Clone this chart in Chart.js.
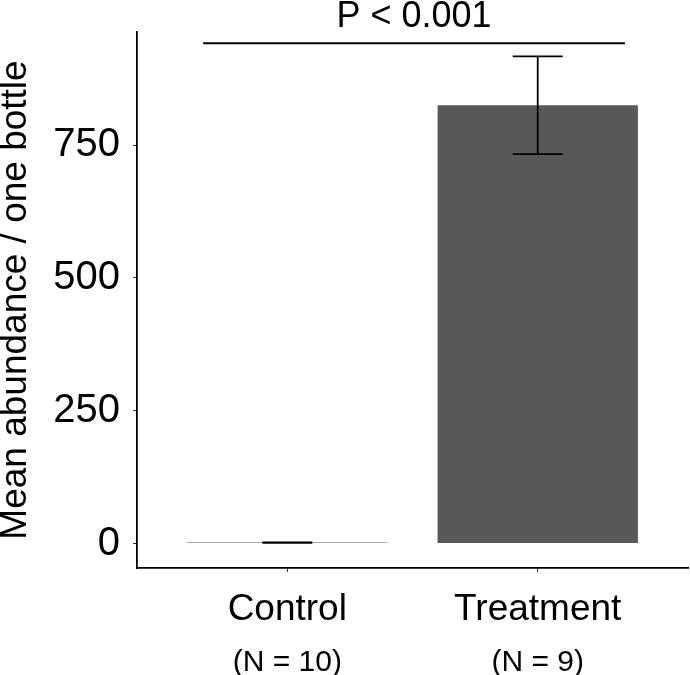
<!DOCTYPE html>
<html>
<head>
<meta charset="utf-8">
<script src="https://cdn.jsdelivr.net/npm/chart.js@4/dist/chart.umd.min.js"></script>
<style>
    body { margin: 0; background: #fff; }
    #wrap { width: 690px; height: 675px; }
</style>
</head>
<body>
<div id="wrap"><canvas id="abundanceChart"></canvas></div>
<script>
// data
const groups = ['Control', 'Treatment'];
const groupN = ['(N = 10)', '(N = 9)'];
const meanAbundance = [2, 825];
const errHalf = [0.5, 92];
const yTicks = [0, 250, 500, 750];
const pLabel = 'P < 0.001';
const bracketValue = 942;

const fontFamily = "'Liberation Sans', Arial, sans-serif";

// error bars, significance bracket and N labels
const extrasPlugin = {
    id: 'extras',
    afterDatasetsDraw(chart) {
        const ctx = chart.ctx;
        const x = chart.scales.x;
        const y = chart.scales.y;
        ctx.save();
        ctx.strokeStyle = '#000';
        ctx.lineWidth = 1.8;
        groups.forEach((g, i) => {
            const cx = x.getPixelForValue(i + 1);
            const left = x.getPixelForValue(i + 0.9);
            const right = x.getPixelForValue(i + 1.1);
            const hi = y.getPixelForValue(meanAbundance[i] + errHalf[i]);
            const lo = y.getPixelForValue(meanAbundance[i] - errHalf[i]);
            ctx.beginPath();
            ctx.moveTo(cx, hi); ctx.lineTo(cx, lo);
            ctx.moveTo(left, hi); ctx.lineTo(right, hi);
            ctx.moveTo(left, lo); ctx.lineTo(right, lo);
            ctx.stroke();
        });

        // bracket
        const by = y.getPixelForValue(bracketValue);
        const bx1 = x.getPixelForValue(0.664);
        const bx2 = x.getPixelForValue(2.348);
        ctx.lineWidth = 2;
        ctx.beginPath();
        ctx.moveTo(bx1, by); ctx.lineTo(bx2, by);
        ctx.stroke();
        ctx.fillStyle = '#000';
        ctx.font = '36px ' + fontFamily;
        ctx.textAlign = 'center';
        ctx.textBaseline = 'alphabetic';
        ctx.fillText(pLabel, (bx1 + bx2) / 2, by - 16);

        // N under the group names
        ctx.font = '30px ' + fontFamily;
        groupN.forEach((n, i) => {
            ctx.fillText(n, x.getPixelForValue(i + 1), 671);
        });
        ctx.restore();
    }
};

const ctx = document.getElementById('abundanceChart').getContext('2d');
new Chart(ctx, {
    type: 'bar',
    data: {
        datasets: [{
            data: meanAbundance.map((v, i) => ({x: i + 1, y: v})),
            backgroundColor: '#595959',
            borderWidth: 0,
            barPercentage: 0.8,
            categoryPercentage: 1,
        }],
    },
    options: {
        responsive: true,
        maintainAspectRatio: false,
        animation: false,
        layout: {
            padding: {top: 32, right: 2, left: 0, bottom: 0}
        },
        plugins: {
            legend: {display: false},
            tooltip: {enabled: false},
        },
        scales: {
            x: {
                type: 'linear',
                min: 0.4,
                max: 2.6,
                offset: false,
                afterBuildTicks: (scale) => {
                    scale.ticks = groups.map((g, i) => ({value: i + 1}));
                },
                afterFit: (scale) => {
                    scale.height = 107;
                    scale.paddingLeft = 0;
                    scale.paddingRight = 0;
                },
                grid: {
                    display: true,
                    offset: false,
                    drawOnChartArea: false,
                    drawTicks: true,
                    tickLength: 4,
                    tickColor: '#333',
                    tickWidth: 1,
                },
                border: {color: '#000', width: 1.8},
                ticks: {
                    callback: (v) => groups[v - 1],
                    color: '#000',
                    padding: 16,
                    maxRotation: 0,
                    font: {family: fontFamily, size: 37},
                },
            },
            y: {
                min: -45.9,
                max: 963,
                afterBuildTicks: (scale) => {
                    scale.ticks = yTicks.map(v => ({value: v}));
                },
                afterFit: (scale) => {
                    scale.width = 137;
                    scale.paddingTop = 0;
                    scale.paddingBottom = 0;
                },
                grid: {
                    display: true,
                    drawOnChartArea: false,
                    drawTicks: true,
                    tickLength: 4,
                    tickColor: '#333',
                    tickWidth: 1,
                },
                border: {color: '#000', width: 1.8},
                ticks: {
                    color: '#000',
                    padding: 13,
                    font: {family: fontFamily, size: 40},
                },
                title: {
                    display: true,
                    text: 'Mean abundance / one bottle',
                    color: '#000',
                    padding: {top: -6, bottom: 0},
                    font: {family: fontFamily, size: 37},
                },
            },
        },
    },
    plugins: [extrasPlugin],
});
</script>
</body>
</html>
